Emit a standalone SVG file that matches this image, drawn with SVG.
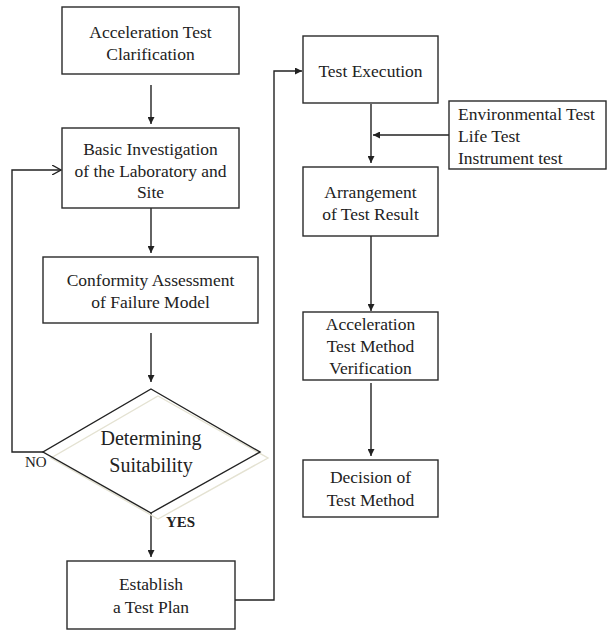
<svg xmlns="http://www.w3.org/2000/svg" width="608" height="630" viewBox="0 0 608 630">
<style>
.box{fill:#fff;stroke:#2a2a2a;stroke-width:1.4}
.t{font-family:'Liberation Serif','DejaVu Serif',serif;font-size:17.5px;fill:#222;text-anchor:middle}
.tl{font-family:'Liberation Serif','DejaVu Serif',serif;font-size:17.5px;fill:#222}
.c{fill:none;stroke:#222;stroke-width:1.4}
</style>
<defs>
<marker id="ah" viewBox="0 0 10 10" refX="10" refY="5" markerWidth="7" markerHeight="7" markerUnits="userSpaceOnUse" orient="auto">
<path d="M0,0 L10,5 L0,10 z" fill="#222"/>
</marker>
<marker id="oh" viewBox="0 0 10 10" refX="9" refY="5" markerWidth="10" markerHeight="10" markerUnits="userSpaceOnUse" orient="auto">
<path d="M0,0 L9,5 L0,10" fill="none" stroke="#222" stroke-width="1.3"/>
</marker>
</defs>
<rect width="608" height="630" fill="#fff"/>
<g id="connectors">
<line class="c" x1="151" y1="85" x2="151" y2="124" marker-end="url(#ah)"/>
<line class="c" x1="151" y1="208" x2="151" y2="253" marker-end="url(#ah)"/>
<line class="c" x1="151" y1="333" x2="151" y2="382" marker-end="url(#ah)"/>
<line class="c" x1="151" y1="513" x2="151" y2="557" marker-end="url(#ah)"/>
<path class="c" d="M43,452 H12 V170 H61" marker-end="url(#oh)"/>
<path class="c" d="M235,600 H274 V71 H302" marker-end="url(#ah)"/>
<line class="c" x1="371" y1="104" x2="371" y2="163" marker-end="url(#ah)"/>
<line class="c" x1="449" y1="135" x2="373" y2="135" marker-end="url(#ah)"/>
<line class="c" x1="371" y1="236" x2="371" y2="311" marker-end="url(#ah)"/>
<line class="c" x1="371" y1="383" x2="371" y2="456" marker-end="url(#ah)"/>
</g>
<g id="n1">
<rect class="box" x="62" y="7" width="177" height="67"/>
<text class="t" x="150.5" y="38">Acceleration  Test</text>
<text class="t" x="150.5" y="60">Clarification</text>
</g>
<g id="n2">
<rect class="box" x="62" y="128" width="177" height="80"/>
<text class="t" x="150.5" y="155">Basic Investigation</text>
<text class="t" x="150.5" y="177">of the Laboratory  and</text>
<text class="t" x="150.5" y="198">Site</text>
</g>
<g id="n3">
<rect class="box" x="43" y="257" width="215" height="66"/>
<text class="t" x="150.5" y="286">Conformity  Assessment</text>
<text class="t" x="150.5" y="308">of Failure Model</text>
</g>
<g id="n4">
<polygon points="158,396 268,458 158,519 51,458" fill="none" stroke="#e4e2d2" stroke-width="1.4"/>
<polygon points="151,389 260,452 151,513 43,452" fill="none" stroke="#222" stroke-width="1.4"/>
<text class="t" x="151" y="445" style="font-size:20px">Determining</text>
<text class="t" x="151" y="472" style="font-size:20px">Suitability</text>
<text class="tl" x="25" y="467" style="font-size:15px">NO</text>
<text class="tl" x="166" y="527" style="font-size:15px;font-weight:bold">YES</text>
</g>
<g id="n5">
<rect class="box" x="67" y="561" width="168" height="68"/>
<text class="t" x="151" y="590">Establish</text>
<text class="t" x="151" y="613">a Test Plan</text>
</g>
<g id="n6">
<rect class="box" x="303" y="36" width="135" height="67"/>
<text class="t" x="370.5" y="77">Test Execution</text>
</g>
<g id="n7">
<rect class="box" x="449" y="101" width="157" height="68"/>
<text class="tl" x="458" y="120">Environmental  Test</text>
<text class="tl" x="458" y="142">Life Test</text>
<text class="tl" x="458" y="164">Instrument  test</text>
</g>
<g id="n8">
<rect class="box" x="303" y="167" width="135" height="69"/>
<text class="t" x="370.5" y="198">Arrangement</text>
<text class="t" x="370.5" y="220">of Test Result</text>
</g>
<g id="n9">
<rect class="box" x="303" y="312" width="135" height="68"/>
<text class="t" x="370.5" y="330">Acceleration</text>
<text class="t" x="370.5" y="352">Test Method</text>
<text class="t" x="370.5" y="374">Verification</text>
</g>
<g id="n10">
<rect class="box" x="303" y="460" width="135" height="57"/>
<text class="t" x="370.5" y="483">Decision of</text>
<text class="t" x="370.5" y="506">Test Method</text>
</g>
</svg>
